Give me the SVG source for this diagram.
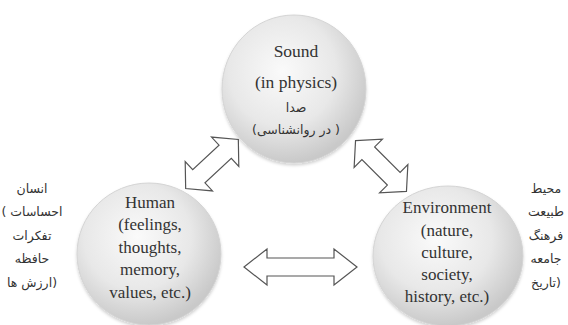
<svg xmlns="http://www.w3.org/2000/svg" width="568" height="325" viewBox="0 0 568 325">
  <defs>
    <radialGradient id="ball" cx="42%" cy="38%" r="62%">
      <stop offset="0" stop-color="#fafafa"/>
      <stop offset="0.6" stop-color="#e8e8e8"/>
      <stop offset="1" stop-color="#c9c9c9"/>
    </radialGradient>
    <filter id="shadow" x="-20%" y="-20%" width="140%" height="140%">
      <feDropShadow dx="0" dy="2" stdDeviation="1.5" flood-color="#000" flood-opacity="0.18"/>
    </filter>
    <polygon id="darrowS" points="-36,0 -18,-20 -18,-9 18,-9 18,-20 36,0 18,20 18,9 -18,9 -18,20"/>
  </defs>
  <style>
    .ball { fill: url(#ball); stroke: #d4d4d4; stroke-width: 1; filter: url(#shadow); }
    .en { font-family: "Liberation Serif", "Times New Roman", serif; font-size: 17px; fill: #333; text-anchor: middle; }
    .fa { font-family: "DejaVu Sans", sans-serif; font-size: 12.5px; fill: #333; text-anchor: middle; direction: ltr; unicode-bidi: embed; }
    .arrow { fill: #fff; stroke: #555; stroke-width: 1.2; stroke-linejoin: miter; }
  </style>
  <rect width="568" height="325" fill="#fff"/>

  <g id="connectors">
    <use href="#darrowS" class="arrow" transform="translate(212,164) rotate(-43)"/>
    <use href="#darrowS" class="arrow" transform="translate(381,166) rotate(45)"/>
    <polygon class="arrow" transform="translate(300.5,267)" points="-56.5,0 -33.5,-18 -33.5,-9 33.5,-9 33.5,-18 56.5,0 33.5,18 33.5,9 -33.5,9 -33.5,18"/>
  </g>

  <g id="sound">
    <ellipse class="ball" cx="294" cy="89" rx="72" ry="74"/>
    <text class="en" style="font-size:17.5px" x="296" y="57">Sound</text>
    <text class="en" style="font-size:17.5px" x="296" y="88">(in physics)</text>
    <text class="fa" x="296" y="112">صدا</text>
    <text class="fa" x="296" y="134">(در روانشناسی )</text>
  </g>

  <g id="human">
    <ellipse class="ball" cx="149" cy="254" rx="72" ry="71"/>
    <text class="en" x="150" y="208">Human</text>
    <text class="en" x="150" y="230">(feelings,</text>
    <text class="en" x="150" y="253">thoughts,</text>
    <text class="en" x="150" y="275">memory,</text>
    <text class="en" x="150" y="298">values, etc.)</text>
  </g>

  <g id="environment">
    <ellipse class="ball" cx="448" cy="256" rx="75" ry="70"/>
    <text class="en" x="447" y="213">Environment</text>
    <text class="en" x="447" y="236">(nature,</text>
    <text class="en" x="447" y="258">culture,</text>
    <text class="en" x="447" y="280">society,</text>
    <text class="en" x="447" y="302">history, etc.)</text>
  </g>

  <g id="human-fa">
    <text class="fa" x="32" y="193">انسان</text>
    <text class="fa" x="32" y="216">( احساسات</text>
    <text class="fa" x="32" y="240">تفکرات</text>
    <text class="fa" x="32" y="263">حافظه</text>
    <text class="fa" x="32" y="287">ارزش ها)</text>
  </g>

  <g id="environment-fa">
    <text class="fa" x="546" y="193">محیط</text>
    <text class="fa" x="546" y="216">طبیعت</text>
    <text class="fa" x="546" y="240">فرهنگ</text>
    <text class="fa" x="546" y="263">جامعه</text>
    <text class="fa" x="546" y="287">تاریخ)</text>
  </g>
</svg>
